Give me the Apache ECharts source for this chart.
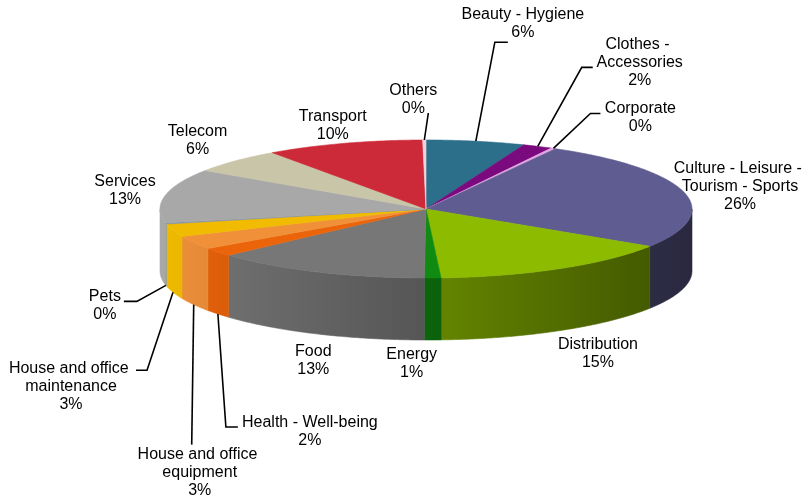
<!DOCTYPE html>
<html>
<head>
<meta charset="utf-8">
<script src="https://cdn.jsdelivr.net/npm/echarts@6/dist/echarts.min.js"></script>
<style>
  html, body { margin: 0; padding: 0; background: #fff; }
  #chart { width: 811px; height: 502px; }
</style>
</head>
<body>
<div id="chart"></div>
<script>
// sectors, clockwise from 12 o'clock
const categories = [
  'Beauty - Hygiene', 'Clothes - Accessories', 'Corporate',
  'Culture - Leisure - Tourism - Sports', 'Distribution', 'Energy', 'Food',
  'Health - Well-being', 'House and office equipment', 'House and office maintenance',
  'Pets', 'Services', 'Telecom', 'Transport', 'Others'
];
const shares = [6.0, 1.8, 0.3, 26.0, 15.0, 1.0, 13.2, 2.0, 3.2, 3.0, 0.3, 12.6, 5.8, 9.6, 0.2];
const colors = [
  '#2b6f8b', '#7b0a7e', '#e3a6e3', '#5e5c90', '#8cbb00', '#118a11', '#777777',
  '#ec640a', '#f0913a', '#f0bb00', '#8494a4', '#a8a8a8', '#c9c5a8', '#cc2a38', '#f0d4dc'
];

// ellipse of the top face and height of the side
const pie = { cx: 426, cy: 209, rx: 266, ry: 69, depth: 62 };

// label centre offset from the slice rim point, wrap width, leader [endDx, endDy, elbowDx]
const labelLayout = [
  { dx: 47, dy: -118, leader: [-15, 19, -13] },
  { dx: 102, dy: -84, wrap: 120, leader: [-47, 5, -11] },
  { dx: 87, dy: -31, leader: [-40, -4, -10] },
  { dx: 56, dy: -6, wrap: 150 },
  { dx: 38, dy: 85 },
  { dx: -21, dy: 86 },
  { dx: -4, dy: 89 },
  { dx: 92, dy: 180, leader: [-72, -5, -12] },
  { dx: 6, dy: 230, wrap: 128, leader: [-8, -28, 0] },
  { dx: -102, dy: 156, wrap: 128, leader: [65, -16, 11] },
  { dx: -61, dy: 82, leader: [19, -4, 13] },
  { dx: -40, dy: -5 },
  { dx: -38, dy: -20 },
  { dx: -11, dy: -18 },
  { dx: -11, dy: -40, leader: [15, 13, 0] }
];

const total = shares.reduce((s, v) => s + v, 0);
let acc = 0;
const seriesData = shares.map((v, i) => {
  const start = acc / total;
  acc += v;
  return { name: categories[i], value: [v, start, acc / total] };
});

function shade(hex, f) {
  const n = parseInt(hex.slice(1), 16);
  const r = Math.round(((n >> 16) & 255) * f);
  const g = Math.round(((n >> 8) & 255) * f);
  const b = Math.round((n & 255) * f);
  return `rgb(${r},${g},${b})`;
}

function rim(t, z) {
  return [pie.cx + pie.rx * Math.sin(t), pie.cy - pie.ry * Math.cos(t) + z];
}

function arc(ta, tb, z) {
  const n = Math.max(2, Math.ceil((tb - ta) / 0.01));
  const pts = [];
  for (let k = 0; k <= n; k++) pts.push(rim(ta + (tb - ta) * k / n, z));
  return pts;
}

function renderSlice(params, api) {
  const i = params.dataIndex;
  const t0 = api.value(1) * Math.PI * 2;
  const t1 = api.value(2) * Math.PI * 2;
  const color = colors[i];
  const children = [];

  // outer side, only the front half is visible
  const s0 = Math.max(t0, Math.PI / 2);
  const s1 = Math.min(t1, Math.PI * 1.5);
  if (s1 > s0) {
    const grad = new echarts.graphic.LinearGradient(
      pie.cx - pie.rx, 0, pie.cx + pie.rx, 0,
      [{ offset: 0, color: shade(color, 1.0) }, { offset: 1, color: shade(color, 0.44) }],
      true
    );
    const pts = arc(s0, s1, 0).concat(arc(s0, s1, pie.depth).reverse());
    children.push({
      type: 'polygon',
      shape: { points: pts },
      style: { fill: grad, stroke: grad, lineWidth: 0.6 }
    });
  }

  // top face
  children.push({
    type: 'polygon',
    shape: { points: [[pie.cx, pie.cy]].concat(arc(t0, t1, 0)) },
    style: { fill: color, stroke: color, lineWidth: 0.6 }
  });

  // label
  const mid = (t0 + t1) / 2;
  const front = Math.cos(mid) < 0;
  const anchor = rim(mid, 0);
  const lay = labelLayout[i];
  const lx = anchor[0] + lay.dx;
  const ly = anchor[1] + lay.dy;
  const pct = Math.round(api.value(0) / total * 100) + '%';
  const textStyle = {
    text: categories[i] + '\n' + pct,
    fill: '#000',
    fontSize: 16,
    fontFamily: '"Liberation Sans", Arial, sans-serif',
    lineHeight: 18,
    align: 'center',
    verticalAlign: 'middle'
  };
  if (lay.wrap) {
    textStyle.width = lay.wrap;
    textStyle.overflow = 'break';
  }
  children.push({ type: 'text', x: lx, y: ly, z2: 10, style: textStyle });

  if (lay.leader) {
    const start = rim(mid, front ? pie.depth : 0);
    const end = [lx + lay.leader[0], ly + lay.leader[1]];
    const elbow = [end[0] + lay.leader[2], end[1]];
    children.push({
      type: 'polyline',
      z2: 10,
      shape: { points: [start, elbow, end] },
      style: { stroke: '#000', lineWidth: 1.6, fill: null }
    });
  }

  return { type: 'group', children };
}

const chart = echarts.init(document.getElementById('chart'));
chart.setOption({
  backgroundColor: '#fff',
  animation: false,
  series: [{
    type: 'custom',
    coordinateSystem: 'none',
    renderItem: renderSlice,
    data: seriesData
  }]
});
</script>
</body>
</html>
